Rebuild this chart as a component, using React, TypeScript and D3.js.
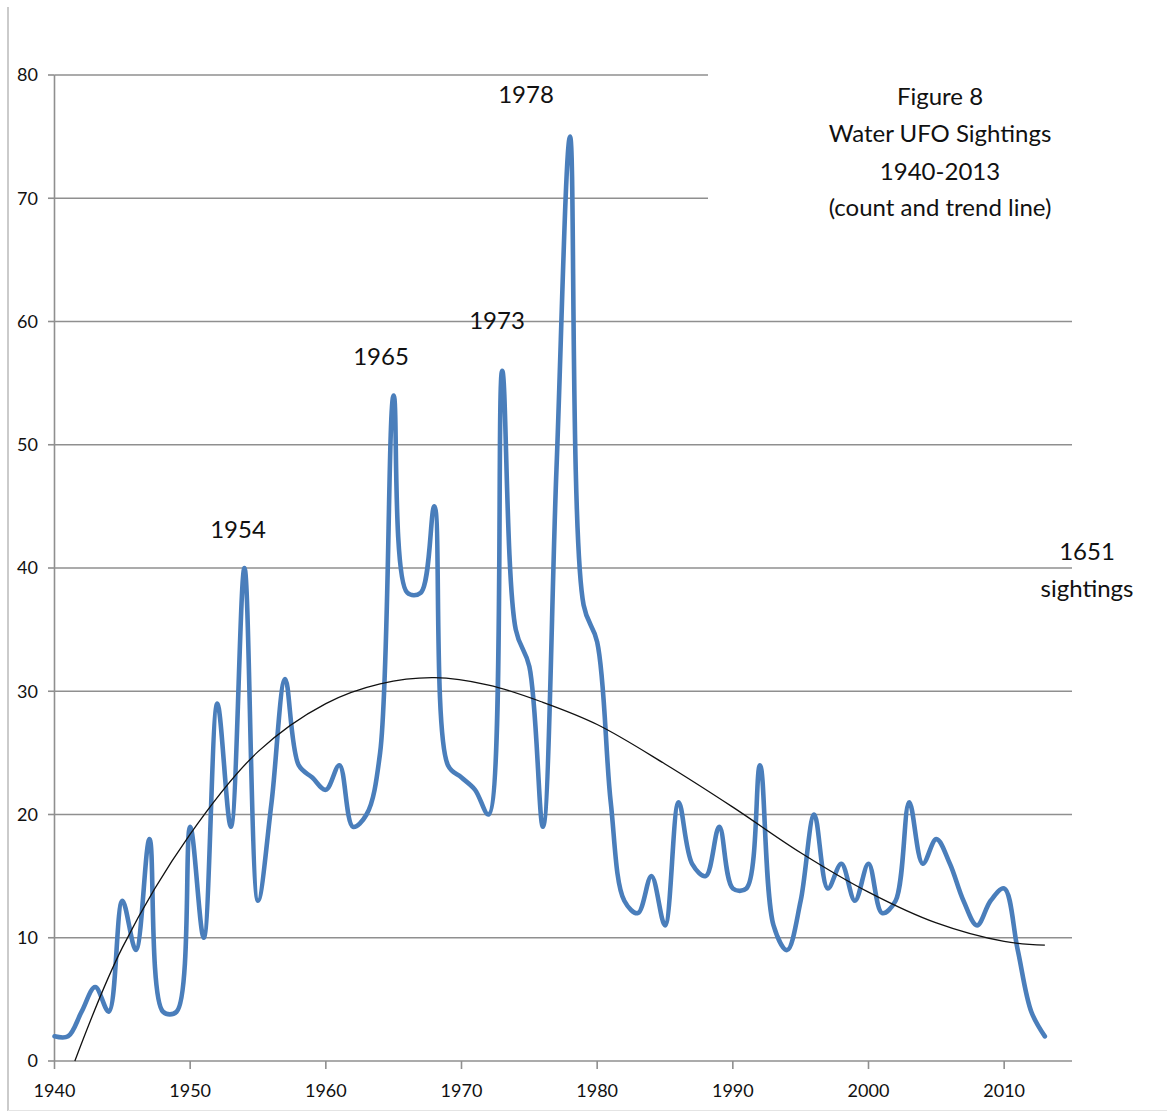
import React from "react";
import * as d3 from "d3";

const years: number[] = d3.range(1940, 2014);
const counts: number[] = [
  2, 2, 4, 6, 4, 13, 9, 18, 4, 4,
  19, 10, 29, 19, 40, 13, 21, 31, 24, 23,
  22, 24, 19, 20, 25, 54, 38, 38, 45, 24,
  23, 22, 20, 56, 35, 32, 19, 48, 75, 37,
  34, 21, 13, 12, 15, 11, 21, 16, 15, 19,
  14, 14, 24, 11, 9, 13, 20, 14, 16, 13,
  16, 12, 13, 21, 16, 18, 16, 13, 11, 13,
  14, 9, 4, 2,
];

const trendYears: number[] = [1941.5, 1945, 1950, 1955, 1960, 1964, 1968, 1972, 1976, 1980, 1985, 1990, 1995, 2000, 2005, 2010, 2013];
const trendValues: number[] = [0, 9.2, 18.4, 25.1, 29.0, 30.6, 31.1, 30.5, 29.1, 27.3, 24.1, 20.6, 16.9, 13.7, 11.2, 9.7, 9.4];

const yTicks: number[] = [0, 10, 20, 30, 40, 50, 60, 70, 80];
const xTicks: number[] = [1940, 1950, 1960, 1970, 1980, 1990, 2000, 2010];

const peakLabels = [
  { text: "1954", x: 238, y: 538 },
  { text: "1965", x: 381, y: 365 },
  { text: "1973", x: 497, y: 329 },
  { text: "1978", x: 526, y: 103 },
];
const titleLines: string[] = ["Figure 8", "Water UFO Sightings", "1940-2013", "(count and trend line)"];
const totalLines: string[] = ["1651", "sightings"];

const W = 1167;
const H = 1113;
const FONT = "Lato, 'Open Sans', sans-serif";

export default function App() {
  const x = d3.scaleLinear().domain([1940, 2015]).range([54.5, 1072]);
  const y = d3.scaleLinear().domain([0, 80]).range([1061, 75]);

  const line = d3
    .line<number>()
    .x((_, i) => x(years[i]))
    .y((d) => y(d))
    .curve(d3.curveCatmullRom.alpha(0.5));

  const trend = d3
    .line<number>()
    .x((_, i) => x(trendYears[i]))
    .y((d) => y(d))
    .curve(d3.curveCatmullRom.alpha(0.5));

  const gridColor = "#8f8f8f";

  return (
    <svg
      width={W}
      height={H}
      style={{ position: "absolute", left: 0, top: 0, background: "#fff" }}
      fontFamily={FONT}
    >
      <rect x={0} y={0} width={W} height={H} fill="#fff" />
      <line x1={8} x2={8} y1={7} y2={1111} stroke="#a8a8a8" strokeWidth={1.2} />
      <line x1={8} x2={W} y1={1110.5} y2={1110.5} stroke="#e4e4e4" strokeWidth={1} />

      {yTicks.map((t) => (
        <line key={"g" + t} x1={x(1940)} x2={x(2015)} y1={y(t)} y2={y(t)} stroke={gridColor} strokeWidth={1.6} />
      ))}
      {yTicks.map((t) => (
        <line key={"yt" + t} x1={48} x2={x(1940)} y1={y(t)} y2={y(t)} stroke={gridColor} strokeWidth={1.6} />
      ))}
      {xTicks.map((t) => (
        <line key={"xt" + t} x1={x(t)} x2={x(t)} y1={y(0)} y2={y(0) + 8} stroke={gridColor} strokeWidth={1.6} />
      ))}
      <line x1={x(1940)} x2={x(1940)} y1={y(80)} y2={y(0)} stroke={gridColor} strokeWidth={1.6} />

      {yTicks.map((t) => (
        <text key={"yl" + t} x={38} y={y(t)} dy="0.35em" textAnchor="end" fontSize={18} fill="#111">
          {t}
        </text>
      ))}
      {xTicks.map((t) => (
        <text key={"xl" + t} x={x(t)} y={1097} textAnchor="middle" fontSize={18} fill="#111">
          {t}
        </text>
      ))}

      <rect x={708} y={60} width={W - 708} height={175} fill="#fff" />
      {titleLines.map((s, i) => (
        <text key={"t" + i} x={940} y={[105, 142, 180, 216][i]} textAnchor="middle" fontSize={24} fill="#111">
          {s}
        </text>
      ))}

      <path d={line(counts) || ""} fill="none" stroke="#4a7ebb" strokeWidth={4.6} strokeLinejoin="round" strokeLinecap="round" />
      <path d={trend(trendValues) || ""} fill="none" stroke="#111" strokeWidth={1.3} />

      {peakLabels.map((p) => (
        <text key={p.text} x={p.x} y={p.y} textAnchor="middle" fontSize={24} fill="#111">
          {p.text}
        </text>
      ))}
      {totalLines.map((s, i) => (
        <text key={"s" + i} x={1087} y={[560, 597][i]} textAnchor="middle" fontSize={24} fill="#111">
          {s}
        </text>
      ))}
    </svg>
  );
}
